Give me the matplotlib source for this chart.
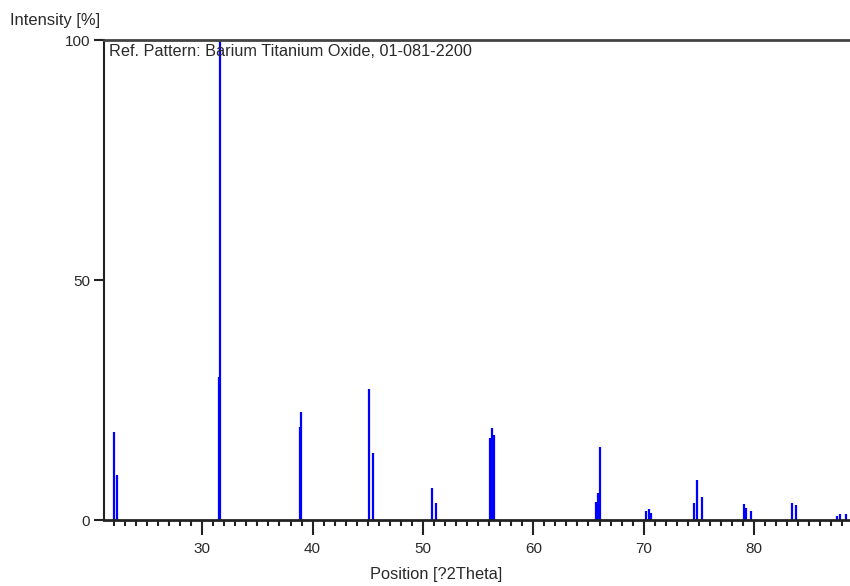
import numpy as np
from matplotlib import pyplot as plt
from matplotlib.ticker import MultipleLocator

# reference pattern peaks
pos = [22.0, 22.31, 31.5, 31.61, 38.84, 38.99, 45.12, 45.43, 50.83, 51.17,
       56.09, 56.25, 56.4, 65.68, 65.84, 66.04, 70.21, 70.51, 70.66,
       74.56, 74.86, 75.31, 79.09, 79.24, 79.73, 83.45, 83.78, 87.5, 87.8, 88.31]
inten = [18.4, 9.4, 29.8, 100, 19.4, 22.6, 27.4, 13.9, 6.6, 3.5,
         17.0, 19.1, 17.7, 3.8, 5.6, 15.3, 1.9, 2.4, 1.4,
         3.5, 8.3, 4.9, 3.3, 2.5, 1.8, 3.5, 3.2, 0.8, 1.2, 1.2]
xticks = [30, 40, 50, 60, 70, 80]
yticks = [0, 50, 100]

plt.rcParams['font.family'] = ['Liberation Sans Narrow', 'Liberation Sans', 'DejaVu Sans']
txt = '#2a2a2a'

fig = plt.figure(figsize=(8.5, 5.86), dpi=100)
ax = fig.add_axes([0.1224, 0.1126, 0.8776, 0.8183])

ax.vlines(pos, 0, inten, color='#0000ff', lw=1.6)

ax.set_xlim(21.1, 88.7)
ax.set_ylim(0, 100)
ax.set_xticks(xticks)
ax.set_yticks(yticks)
ax.xaxis.set_minor_locator(MultipleLocator(1))
ax.tick_params(axis='x', which='major', length=10.5, width=1.5, colors='#222222',
               labelsize=11, labelcolor=txt, pad=5)
ax.tick_params(axis='x', which='minor', length=4, width=1.5, colors='#222222')
ax.tick_params(axis='y', which='major', length=7, width=1.5, colors='#222222',
               labelsize=11, labelcolor=txt, pad=3)

ax.spines['right'].set_visible(False)
ax.spines['left'].set_linewidth(1.5)
ax.spines['bottom'].set_linewidth(2)
ax.spines['top'].set_linewidth(2)
ax.spines['top'].set_color('#444444')
ax.spines['left'].set_color('#222222')
ax.spines['bottom'].set_color('#222222')

ax.text(0.006, 0.993, 'Ref. Pattern: Barium Titanium Oxide, 01-081-2200',
        transform=ax.transAxes, ha='left', va='top', fontsize=11.7, color=txt)

fig.text(10 / 850, 1 - 20 / 586, 'Intensity [%]', ha='left', va='center',
         fontsize=11.9, color=txt)
fig.text(436 / 850, 1 - 575 / 586, 'Position [?2Theta]', ha='center', va='center',
         fontsize=11.8, color=txt)

plt.savefig('out.png', dpi=100)
